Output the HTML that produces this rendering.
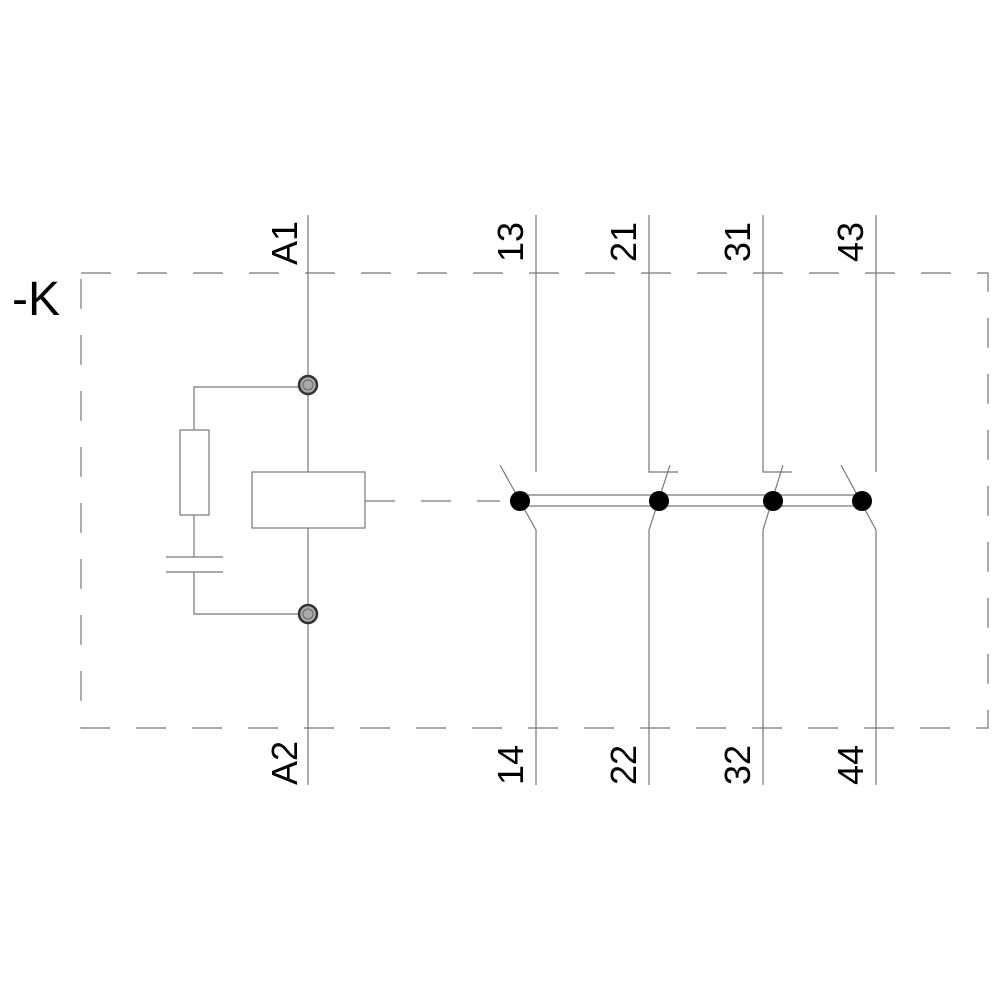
<!DOCTYPE html>
<html><head><meta charset="utf-8"><style>body{margin:0;background:#fff}</style></head><body>
<svg width="1000" height="1000" xmlns="http://www.w3.org/2000/svg" font-family="Liberation Sans, sans-serif">
<rect width="1000" height="1000" fill="#fff"/>
<g stroke="#777" stroke-width="1.2" fill="none">
<rect x="81" y="273" width="907" height="455" stroke-dasharray="30,26"/>
<line x1="365" y1="501" x2="500" y2="501" stroke-dasharray="30,26"/>
<line x1="308" y1="215" x2="308" y2="472"/>
<line x1="308" y1="528" x2="308" y2="785"/>
<rect x="252" y="472" width="113" height="56"/>
<polyline points="308,387 194,387 194,430"/>
<rect x="180" y="430" width="29" height="85"/>
<line x1="194" y1="515" x2="194" y2="557"/>
<line x1="166" y1="557" x2="223" y2="557"/>
<line x1="166" y1="572" x2="223" y2="572"/>
<polyline points="194,572 194,614 308,614"/>
<line x1="536" y1="215" x2="536" y2="472"/>
<line x1="536" y1="530" x2="536" y2="785"/>
<line x1="500" y1="465" x2="536" y2="530"/>
<polyline points="649,215 649,472 678,472"/>
<line x1="649" y1="530" x2="649" y2="785"/>
<line x1="670" y1="465" x2="649" y2="530"/>
<polyline points="763,215 763,472 792,472"/>
<line x1="763" y1="530" x2="763" y2="785"/>
<line x1="783" y1="465" x2="763" y2="530"/>
<line x1="876" y1="215" x2="876" y2="472"/>
<line x1="876" y1="530" x2="876" y2="785"/>
<line x1="841" y1="465" x2="876" y2="530"/>
<line x1="520" y1="495" x2="862" y2="495"/>
<line x1="520" y1="506" x2="862" y2="506"/>
</g>
<g fill="#000">
<circle cx="520" cy="501" r="10"/>
<circle cx="659" cy="501" r="10"/>
<circle cx="773" cy="501" r="10"/>
<circle cx="862" cy="501" r="10"/>
</g>
<g stroke="#333" fill="#aaa">
<circle cx="308" cy="385" r="9" stroke-width="2.5"/>
<circle cx="308" cy="385" r="5" fill="none" stroke="#666"/>
<circle cx="308" cy="614" r="9" stroke-width="2.5"/>
<circle cx="308" cy="614" r="5" fill="none" stroke="#666"/>
</g>
<text x="12" y="315" font-size="48">-K</text>
<g font-size="36" fill="#000">
<text transform="translate(297,265) rotate(-90)">A1</text>
<text transform="translate(297,785) rotate(-90)">A2</text>
<text transform="translate(523,262) rotate(-90)">13</text>
<text transform="translate(636,262) rotate(-90)">21</text>
<text transform="translate(750,262) rotate(-90)">31</text>
<text transform="translate(863,262) rotate(-90)">43</text>
<text transform="translate(523,785) rotate(-90)">14</text>
<text transform="translate(636,785) rotate(-90)">22</text>
<text transform="translate(750,785) rotate(-90)">32</text>
<text transform="translate(863,785) rotate(-90)">44</text>
</g>
</svg>
</body></html>
